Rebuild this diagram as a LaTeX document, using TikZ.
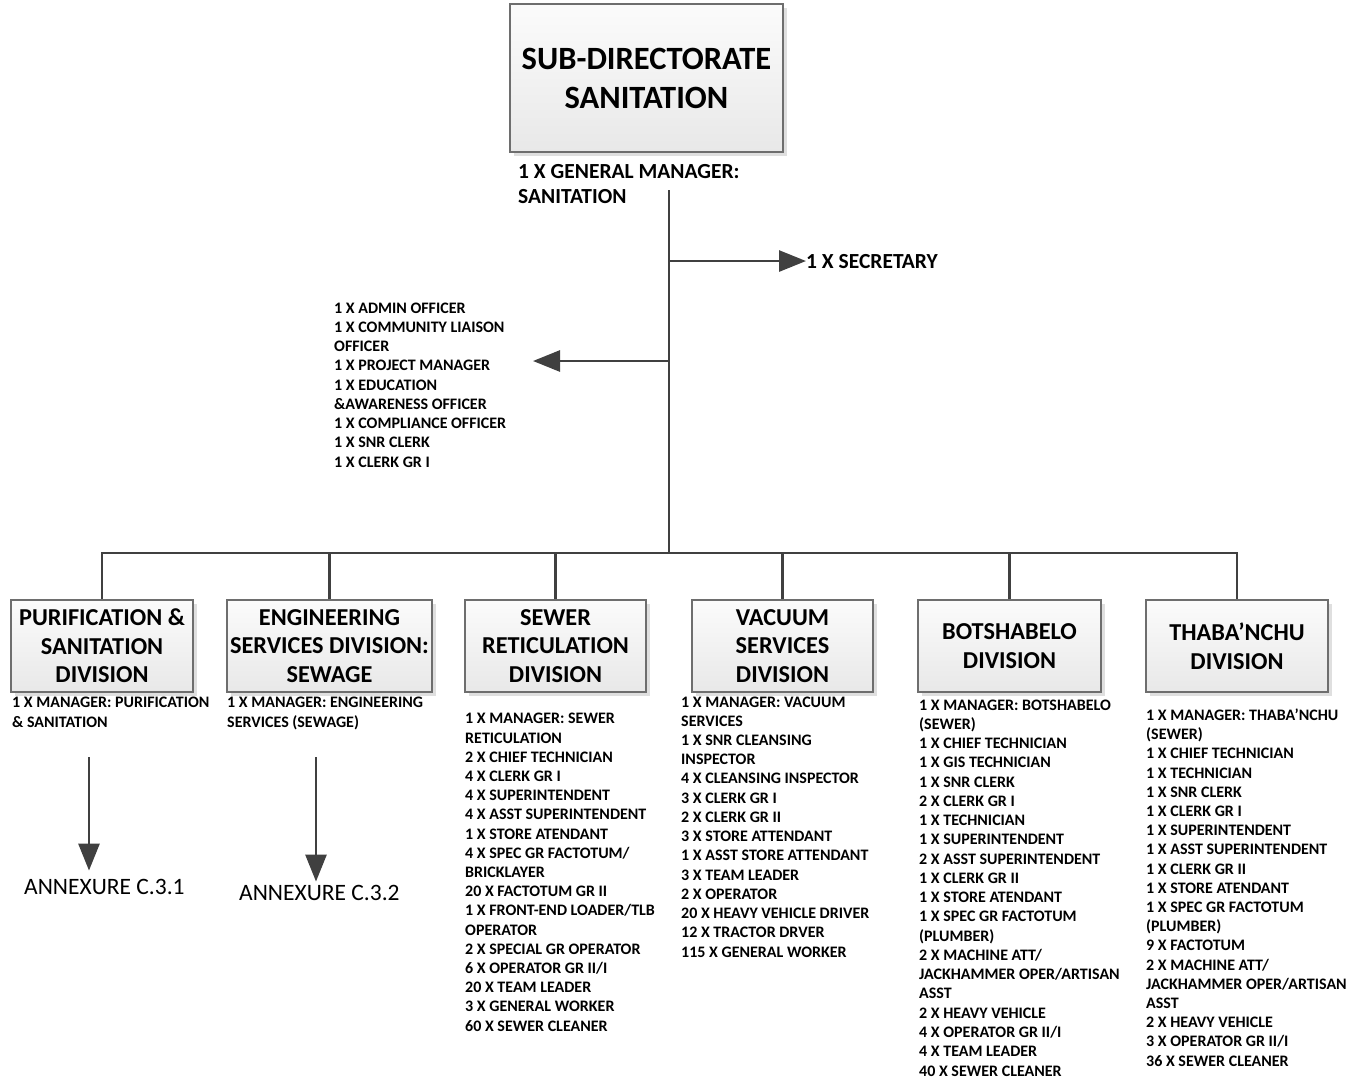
\documentclass[tikz,border=0pt]{standalone}
\usepackage{fontspec}
\setmainfont{Carlito}
\usetikzlibrary{arrows.meta,shadows}
\definecolor{linegray}{HTML}{404040}
\definecolor{boxgray}{HTML}{6E6E6E}

\begin{document}
\begin{tikzpicture}[x = 1pt, y = -1pt,
  link/.style = {draw = linegray, line width = 2.8pt},
  tip/.style = {link, -{Triangle[length = 27pt, width = 21pt]}},
  divbox/.style = {draw = boxgray, line width = 1.2pt, top color = gray!3, bottom color = gray!18,
    drop shadow = {shadow xshift = 4pt, shadow yshift = -4pt, fill = gray!35, opacity = .7},
    align = center, inner sep = 0, minimum height = 92pt, font = \fontsize{24.3}{28.5}\selectfont\bfseries},
  staff/.style = {align = left, inner sep = 0, anchor = base west, font = \fontsize{16}{19.25}\selectfont\bfseries},
  annex/.style = {inner sep = 0, anchor = base west, font = \fontsize{23.5}{28}\selectfont}]
  \fill[white] (0, 0) rectangle (1349, 1079);
  \useasboundingbox (0, 0) rectangle (1349, 1079);

  \node[divbox, minimum width = 273pt, minimum height = 148pt, font = \fontsize{32.5}{39}\selectfont\bfseries] (sub) at (646.5, 78) {SUB-DIRECTORATE\\SANITATION};
  \node[staff, font = \fontsize{21.5}{25}\selectfont\bfseries] (gm) at (518, 203) {1 X GENERAL MANAGER:\\SANITATION};

  \coordinate (top) at (669, 190);
  \coordinate (hub) at (669, 553);
  \draw[link] (top) -- (hub);

  \node[staff, font = \fontsize{21.5}{25}\selectfont\bfseries] (sec) at (806, 268) {1 X SECRETARY};
  \draw[tip] (top |- sec.west) -- (sec.west);

  \node[staff] (office) at (334, 467) {1 X ADMIN OFFICER\\1 X COMMUNITY LIAISON\\OFFICER\\1 X PROJECT MANAGER\\1 X EDUCATION\\\&AWARENESS OFFICER\\1 X COMPLIANCE OFFICER\\1 X SNR CLERK\\1 X CLERK GR I};
  \coordinate (officetip) at (533, 361);
  \draw[tip] (top |- officetip) -- (officetip);

  \node[divbox, minimum width = 182pt] (div1) at (102, 646) {PURIFICATION \&\\SANITATION\\DIVISION};
  \node[divbox, minimum width = 205pt] (div2) at (329.5, 646) {ENGINEERING\\SERVICES DIVISION:\\SEWAGE};
  \node[divbox, minimum width = 181pt] (div3) at (555.5, 646) {SEWER\\RETICULATION\\DIVISION};
  \node[divbox, minimum width = 181pt] (div4) at (782.5, 646) {VACUUM\\SERVICES\\DIVISION};
  \node[divbox, minimum width = 183pt] (div5) at (1009.5, 646) {BOTSHABELO\\DIVISION};
  \node[divbox, minimum width = 182pt] (div6) at (1237, 646) {THABA’NCHU\\DIVISION};

  \draw[link] (div1.north) |- (hub) -| (div6.north);
  \foreach \d in {2, ..., 5}
    \draw[link] (div\d.north) -- (div\d.north |- hub);

  \node[staff] (mgr1) at (12, 727) {1 X MANAGER: PURIFICATION\\\& SANITATION};
  \node[staff] (mgr2) at (227, 727) {1 X MANAGER: ENGINEERING\\SERVICES (SEWAGE)};

  \node[staff, font = \fontsize{16}{19.19}\selectfont\bfseries] (sewer) at (465, 1031) {1 X MANAGER: SEWER\\RETICULATION\\2 X CHIEF TECHNICIAN\\4 X CLERK GR I\\4 X SUPERINTENDENT\\4 X ASST SUPERINTENDENT\\1 X STORE ATENDANT\\4 X SPEC GR FACTOTUM/\\BRICKLAYER\\20 X FACTOTUM GR II\\1 X FRONT-END LOADER/TLB\\OPERATOR\\2 X SPECIAL GR OPERATOR\\6 X OPERATOR GR II/I\\20 X TEAM LEADER\\3 X GENERAL WORKER\\60 X SEWER CLEANER};
  \node[staff, font = \fontsize{16}{19.23}\selectfont\bfseries] (vacuum) at (681, 957) {1 X MANAGER: VACUUM\\SERVICES\\1 X SNR CLEANSING\\INSPECTOR\\4 X CLEANSING INSPECTOR\\3 X CLERK GR I\\2 X CLERK GR II\\3 X STORE ATTENDANT\\1 X ASST STORE ATTENDANT\\3 X TEAM LEADER\\2 X OPERATOR\\20 X HEAVY VEHICLE DRIVER\\12 X TRACTOR DRVER\\115 X GENERAL WORKER};
  \node[staff, font = \fontsize{16}{19.26}\selectfont\bfseries] (bots) at (919, 1076) {1 X MANAGER: BOTSHABELO\\(SEWER)\\1 X CHIEF TECHNICIAN\\1 X GIS TECHNICIAN\\1 X SNR CLERK\\2 X CLERK GR I\\1 X TECHNICIAN\\1 X SUPERINTENDENT\\2 X ASST SUPERINTENDENT\\1 X CLERK GR II\\1 X STORE ATENDANT\\1 X SPEC GR FACTOTUM\\(PLUMBER)\\2 X MACHINE ATT/\\JACKHAMMER OPER/ARTISAN\\ASST\\2 X HEAVY VEHICLE\\4 X OPERATOR GR II/I\\4 X TEAM LEADER\\40 X SEWER CLEANER};
  \node[staff, font = \fontsize{16}{19.2}\selectfont\bfseries] (thaba) at (1146, 1066) {1 X MANAGER: THABA’NCHU\\(SEWER)\\1 X CHIEF TECHNICIAN\\1 X TECHNICIAN\\1 X SNR CLERK\\1 X CLERK GR I\\1 X SUPERINTENDENT\\1 X ASST SUPERINTENDENT\\1 X CLERK GR II\\1 X STORE ATENDANT\\1 X SPEC GR FACTOTUM\\(PLUMBER)\\9 X FACTOTUM\\2 X MACHINE ATT/\\JACKHAMMER OPER/ARTISAN\\ASST\\2 X HEAVY VEHICLE\\3 X OPERATOR GR II/I\\36 X SEWER CLEANER};

  \node[annex] (annex1) at (24, 894) {ANNEXURE C.3.1};
  \node[annex] (annex2) at (239, 900) {ANNEXURE C.3.2};
  \coordinate (from1) at (89, 757);
  \coordinate (from2) at (316, 757);
  \draw[tip, shorten >= 8pt] (from1) -- (from1 |- annex1.north);
  \draw[tip, shorten >= 3pt] (from2) -- (from2 |- annex2.north);
\end{tikzpicture}
\end{document}
